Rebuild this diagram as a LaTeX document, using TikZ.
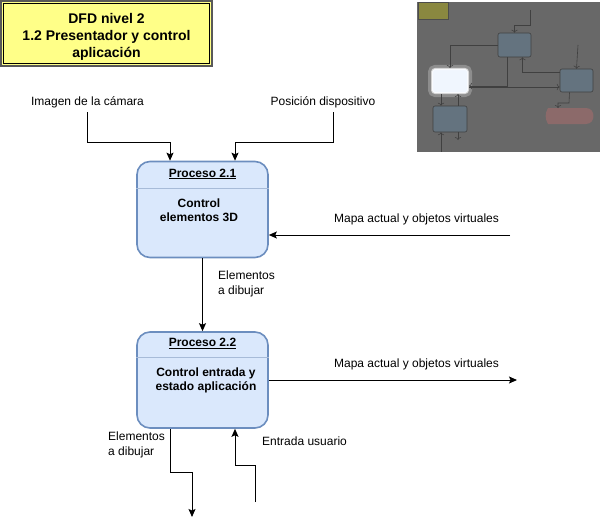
\documentclass[tikz,border=0pt]{standalone}
\usepackage{fontspec}
\setmainfont{Liberation Sans}
\usetikzlibrary{arrows.meta,calc}
\definecolor{procfill}{HTML}{DAE8FC}
\definecolor{procdraw}{HTML}{6C8EBF}
\definecolor{titlefill}{HTML}{FFFF88}
\definecolor{thumbbg}{HTML}{686868}
\definecolor{thumbbox}{HTML}{64737F}
\definecolor{thumbline}{HTML}{404040}
\definecolor{thumbpink}{HTML}{8C6A6A}
\definecolor{thumbyel}{HTML}{8A8840}
\tikzset{
  arr/.style={draw=black, line width=1pt, -{Stealth[length=8pt,width=7pt,inset=1.5pt]}},
  proc/.style={draw=procdraw, line width=1.6pt, fill=procfill, rounded corners=13pt,
    minimum width=131pt, minimum height=96pt, inner sep=0pt},
  lbl/.style={font=\fontsize{12}{15}\selectfont, inner sep=0pt, align=left},
  ptitle/.style={font=\bfseries\fontsize{12}{14}\selectfont, inner sep=0pt, align=center},
  tbox/.style={fill=thumbbox, draw=thumbline, line width=0.6pt, rounded corners=2pt},
  tline/.style={draw=thumbline, line width=0.6pt},
}
\begin{document}
\begin{tikzpicture}[x=1pt,y=-1pt]
\useasboundingbox (0,0) rectangle (602,527);
\fill[white] (0,0) rectangle (602,527);

% title box
\node[draw=black!65, line width=2pt, fill=titlefill, minimum width=211pt, minimum height=65pt, inner sep=0pt] (title) at (106.5,33.5) {};
\draw[black, line width=1.2pt] ($(title.north west)+(3.5pt,-3.5pt)$) rectangle ($(title.south east)+(-3.5pt,3.5pt)$);
\node[font=\bfseries\fontsize{14}{17}\selectfont, align=center, inner sep=0pt] (titletext) at (106.5,37) {DFD nivel 2\\1.2 Presentador y control\\aplicación};

% thumbnail
\fill[thumbbg] (417,2) rectangle (600,152);
\node[fill=thumbyel, draw=black!70, line width=1pt, minimum width=30pt, minimum height=17pt, inner sep=0pt] (tt) at (433,11.5) {};
\node[tbox, minimum width=33pt, minimum height=24pt] (t1) at (514.5,45) {};
\node[tbox, minimum width=33pt, minimum height=23pt] (t3) at (576.5,80.5) {};
\node[tbox, minimum width=34pt, minimum height=26pt] (t4) at (450,119) {};
\node[draw=white, line width=6pt, draw opacity=0.25, rounded corners=4pt, minimum width=38pt, minimum height=26pt] (t2glow) at (450,81) {};
\node[fill=white!60!procfill, draw=white, line width=2pt, draw opacity=0.6, rounded corners=3pt, minimum width=36pt, minimum height=24pt] (t2) at (450,81) {};
\fill[thumbpink] (548,108) -- (586,108) to[out=0,in=0,looseness=1.6] (586,124) -- (548,124) to[bend left=30] (548,108) -- cycle;
\coordinate (ta) at (530,10);
\draw[tline,->] (ta) -- (530,25) -| (t1.north);
\draw[tline,->] (t1.west) -| (t2.north);
\draw[tline,->] ([xshift=-7pt]t1.south) |- ([yshift=-5pt]t2.east);
\draw[tline,->] ([yshift=8pt]t3.west) -| ([xshift=8pt]t1.south);
\draw[tline,->] ([yshift=-6pt]t2.east) -- ([yshift=-6pt]t2.east -| t3.west);
\coordinate (tb) at (578,45);
\draw[tline,->] (tb) -- (t3.north);
\draw[tline,->] ([xshift=-7pt]t3.south) -- (569,103) -| (558,108);
\draw[tline,->] ([xshift=-9pt]t2.south) -- ([xshift=-9pt]t4.north);
\draw[tline,<-] ([xshift=8pt]t2.south) -- ([xshift=8pt]t4.north);
\draw[tline,<-] ([xshift=-9pt]t4.south) -- (441,152);
\draw[tline,->] ([xshift=8pt]t4.south) -- (458,140);

% processes
\node[proc] (p1) at (202.5,209.5) {};
\draw[procdraw!60!white, line width=0.8pt] (p1.west |- 0,188) -- (p1.east |- 0,188);
\node[ptitle] (p1h) at (202.5,174) {\underline{Proceso 2.1}};
\node[ptitle] (p1b) at (199,210.5) {Control\\elementos 3D};

\node[proc] (p2) at (202.5,380) {};
\draw[procdraw!60!white, line width=0.8pt] (p2.west |- 0,357) -- (p2.east |- 0,357);
\node[ptitle] (p2h) at (202.5,343.5) {\underline{Proceso 2.2}};
\node[ptitle] (p2b) at (206,380.5) {Control entrada y\\estado aplicación};

% labels
\node[lbl] (limg) at (87.5,102) {Imagen de la cámara};
\node[lbl] (lpos) at (323,102) {Posición dispositivo};
\node[lbl] (lmap1) at (416.5,219) {Mapa actual y objetos virtuales};
\node[lbl, anchor=west] (lel1) at (218,283.5) {Elementos\\a dibujar};
\node[lbl] (lmap2) at (416.5,364) {Mapa actual y objetos virtuales};
\node[lbl, anchor=west] (lel2) at (108,444.5) {Elementos\\a dibujar};
\node[lbl, anchor=west] (lusr) at (262,441) {Entrada usuario};

% connectors
\coordinate (cimg) at (87,112);
\coordinate (cpos) at (333,112);
\coordinate (cmapin) at (510,235);
\coordinate (cmapout) at (517,380);
\coordinate (celout) at (192,517);
\coordinate (cusr) at (255,502);

\draw[arr] (cimg) -- (87,142) -| ([xshift=-32.5pt]p1.north);
\draw[arr] (cpos) -- (333,142) -| ([xshift=32.5pt]p1.north);
\draw[arr] (cmapin) -- (cmapin -| p1.east);
\draw[arr] (p1.south) -- (p2.north);
\draw[arr] (p2.east) -- (cmapout);
\draw[arr] ([xshift=-32.5pt]p2.south) |- (192,472) -- (celout);
\draw[arr] (cusr) -- (255,465) -| ([xshift=32.5pt]p2.south);
\end{tikzpicture}
\end{document}
